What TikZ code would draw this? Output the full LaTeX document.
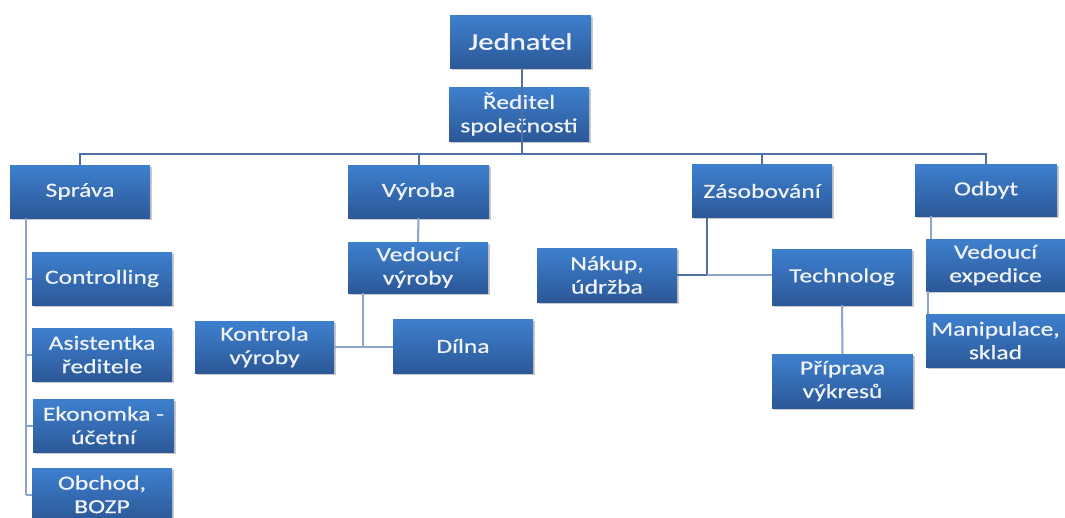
\documentclass[tikz,border=0pt]{standalone}
\usepackage{fontspec}
\setmainfont{Carlito}[FakeStretch=1.28, FakeBold=0.5]
\usetikzlibrary{shadows}
\definecolor{boxtop}{RGB}{62,128,206}
\definecolor{boxbot}{RGB}{44,88,152}
\definecolor{boxtext}{RGB}{240,244,250}
\definecolor{linkdark}{RGB}{78,112,165}
\definecolor{linklight}{RGB}{138,163,200}
\tikzset{
  unit/.style={draw=none, top color=boxtop, bottom color=boxbot,
    text=boxtext, align=center, inner sep=2pt,
    minimum width=140pt, minimum height=53pt,
    font=\fontsize{20}{23.5}\selectfont,
    drop shadow={shadow xshift=1.5pt, shadow yshift=-1.5pt, opacity=0.35, fill=black!60}},
  topunit/.style={unit, font=\fontsize{24}{28}\selectfont},
  link/.style={draw=linkdark, line width=2pt},
  softlink/.style={draw=linklight, line width=2pt}
}
\begin{document}
\begin{tikzpicture}[x=1pt, y=-1pt]
\clip (0,0) rectangle (1065,517);
\fill[white] (0,0) rectangle (1065,517);

% management
\node[topunit, minimum width=141pt] (jed) at (520.5,41.5) {Jednatel};
\node[unit, minimum height=54pt] (red) at (519,114) {Ředitel\\spole^^^^010dnosti};

% departments
\node[unit] (spr) at (80,191.5) {Správa};
\node[unit, minimum width=141pt] (vyr) at (418.5,191.5) {Výroba};
\node[unit] (zas) at (762,191) {Zásobování};
\node[unit, minimum width=142pt, minimum height=52pt] (odb) at (986,190) {Odbyt};

% administration
\node[unit] (con) at (102,278.5) {Controlling};
\node[unit] (asi) at (102,354.5) {Asistentka\\ředitele};
\node[unit, minimum width=141pt] (eko) at (103.5,425.5) {Ekonomka -\\ú^^^^010detní};
\node[unit] (obc) at (102,494.5) {Obchod,\\BOZP};

% production
\node[unit, minimum height=51pt] (ved) at (418,267.5) {Vedoucí\\výroby};
\node[unit, minimum width=139pt, minimum height=52pt] (kon) at (264.5,347) {Kontrola\\výroby};
\node[unit, minimum height=54pt] (dil) at (463,346) {Dílna};

% supply
\node[unit, minimum height=54pt] (nak) at (607,275) {Nákup,\\údržba};
\node[unit, minimum height=56pt] (tec) at (842,277) {Technolog};
\node[unit, minimum width=141pt, minimum height=54pt] (pri) at (842.5,381) {Příprava\\výkresů};

% sales
\node[unit, minimum width=139pt, minimum height=52pt] (vex) at (995.5,265) {Vedoucí\\expedice};
\node[unit, minimum width=139pt] (man) at (995.5,340.5) {Manipulace,\\sklad};

% junction points of the connector lines
\coordinate (bus) at (522,154);
\coordinate (sprx) at (26,218);
\coordinate (vj) at (363,347);
\coordinate (zj) at (707,275);
\coordinate (oj) at (931,0);
\coordinate (mj) at (928,0);

% top of the tree
\draw[link] (jed.south -| bus) -- (red.south -| bus |- red.north);
\draw[link] (red.south -| bus) -- (bus) -| (spr.north);
\draw[link] (bus) -| (vyr.north);
\draw[link] (bus) -| (zas.north);
\draw[link] (bus) -| (odb.north);

% administration branch
\draw[softlink] (spr.south -| sprx) -- (sprx |- obc.west);
\draw[softlink] (sprx |- con.west) -- (con.west);
\draw[softlink] (sprx |- asi.west) -- (asi.west);
\draw[softlink] (sprx |- eko.west) -- (eko.west);
\draw[softlink] (sprx |- obc.west) -- (obc.west);

% production branch
\draw[softlink] (vyr.south) -- (ved.north);
\draw[softlink] (ved.south -| vj) -- (vj);
\draw[softlink] (kon.east) -- (kon.east -| dil.west);

% supply branch
\draw[link] (zas.south -| zj) -- (zj);
\draw[link] (nak.east) -- (zj);
\draw[softlink] (zj) -- (zj -| tec.west);
\draw[softlink] (tec.south) -- (pri.north);

% sales branch
\draw[softlink] (odb.south -| oj) -- (vex.north -| oj);
\draw[softlink] (vex.south -| mj) -- (man.north -| mj);
\end{tikzpicture}
\end{document}
